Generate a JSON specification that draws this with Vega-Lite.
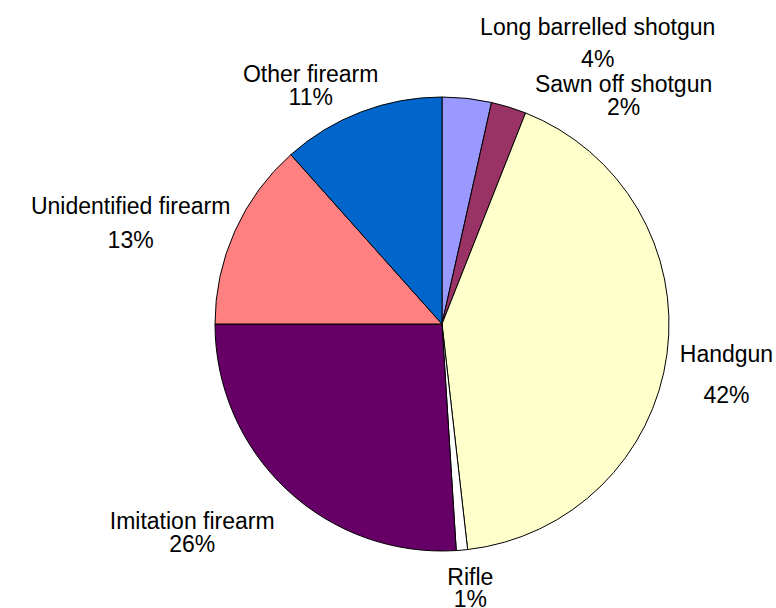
{
  "$schema": "https://vega.github.io/schema/vega-lite/v6.json",
  "width": 668,
  "height": 568,
  "autosize": {"type": "none"},
  "padding": {"left": 108, "top": 40, "right": 0, "bottom": 0},
  "background": "white",
  "view": {"stroke": null},
  "data": {
    "values": [
      {"type": "Long barrelled shotgun", "value": 3.5, "label": "Long barrelled shotgun\n4%", "order": 1},
      {"type": "Sawn off shotgun", "value": 2.5, "label": "Sawn off shotgun\n2%", "order": 2},
      {"type": "Handgun", "value": 42.2, "label": "Handgun\n42%", "order": 3},
      {"type": "Rifle", "value": 0.8, "label": "Rifle\n1%", "order": 4},
      {"type": "Imitation firearm", "value": 26.0, "label": "Imitation firearm\n26%", "order": 5},
      {"type": "Unidentified firearm", "value": 13.4, "label": "Unidentified firearm\n13%", "order": 6},
      {"type": "Other firearm", "value": 11.6, "label": "Other firearm\n11%", "order": 7}
    ]
  },
  "encoding": {
    "theta": {"field": "value", "type": "quantitative", "stack": true},
    "order": {"field": "order", "type": "quantitative"}
  },
  "layer": [
    {
      "mark": {"type": "arc", "outerRadius": 227, "stroke": "black", "strokeWidth": 1},
      "encoding": {
        "color": {
          "field": "type",
          "type": "nominal",
          "legend": null,
          "scale": {
            "domain": ["Long barrelled shotgun", "Sawn off shotgun", "Handgun", "Rifle", "Imitation firearm", "Unidentified firearm", "Other firearm"],
            "range": ["#9999FF", "#993366", "#FFFFCC", "#FFFFFF", "#660066", "#FF8080", "#0066CC"]
          }
        }
      }
    },
    {
      "mark": {"type": "text", "radius": 280, "dx": 125, "dy": -18, "font": "Liberation Sans", "fontSize": 23, "lineBreak": "\n", "lineHeight": 32, "align": "center", "baseline": "middle", "color": "black"},
      "encoding": {"text": {"condition": {"test": "datum.type === 'Long barrelled shotgun'", "field": "label", "type": "nominal"}, "value": ""}}
    },
    {
      "mark": {"type": "text", "radius": 240, "dx": 111, "dy": -10, "font": "Liberation Sans", "fontSize": 23, "lineBreak": "\n", "lineHeight": 23, "align": "center", "baseline": "middle", "color": "black"},
      "encoding": {"text": {"condition": {"test": "datum.type === 'Sawn off shotgun'", "field": "label", "type": "nominal"}, "value": ""}}
    },
    {
      "mark": {"type": "text", "radius": 290, "dx": -3, "dy": -7, "font": "Liberation Sans", "fontSize": 23, "lineBreak": "\n", "lineHeight": 41, "align": "center", "baseline": "middle", "color": "black"},
      "encoding": {"text": {"condition": {"test": "datum.type === 'Handgun'", "field": "label", "type": "nominal"}, "value": ""}}
    },
    {
      "mark": {"type": "text", "radius": 266, "dx": 5, "dy": -11, "font": "Liberation Sans", "fontSize": 23, "lineBreak": "\n", "lineHeight": 22, "align": "center", "baseline": "middle", "color": "black"},
      "encoding": {"text": {"condition": {"test": "datum.type === 'Rifle'", "field": "label", "type": "nominal"}, "value": ""}}
    },
    {
      "mark": {"type": "text", "radius": 324, "dx": -28, "dy": -38, "font": "Liberation Sans", "fontSize": 23, "lineBreak": "\n", "lineHeight": 23, "align": "center", "baseline": "middle", "color": "black"},
      "encoding": {"text": {"condition": {"test": "datum.type === 'Imitation firearm'", "field": "label", "type": "nominal"}, "value": ""}}
    },
    {
      "mark": {"type": "text", "radius": 328, "dx": -12, "dy": 17, "font": "Liberation Sans", "fontSize": 23, "lineBreak": "\n", "lineHeight": 34, "align": "center", "baseline": "middle", "color": "black"},
      "encoding": {"text": {"condition": {"test": "datum.type === 'Unidentified firearm'", "field": "label", "type": "nominal"}, "value": ""}}
    },
    {
      "mark": {"type": "text", "radius": 273, "dx": -34, "dy": 6, "font": "Liberation Sans", "fontSize": 23, "lineBreak": "\n", "lineHeight": 23, "align": "center", "baseline": "middle", "color": "black"},
      "encoding": {"text": {"condition": {"test": "datum.type === 'Other firearm'", "field": "label", "type": "nominal"}, "value": ""}}
    }
  ]
}
